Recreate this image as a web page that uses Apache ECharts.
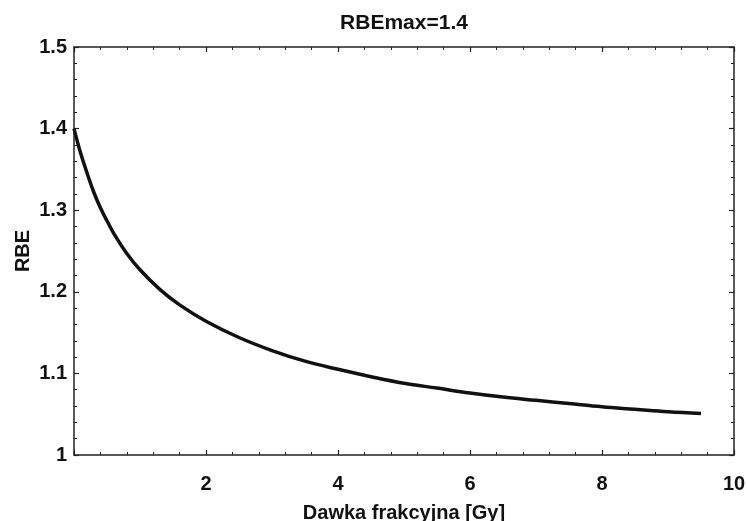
<!DOCTYPE html>
<html>
<head>
<meta charset="utf-8">
<script src="https://cdn.jsdelivr.net/npm/echarts@6/dist/echarts.min.js"></script>
<style>html,body{margin:0;padding:0;background:#fff}#c{width:747px;height:521px}</style>
</head>
<body>
<div id="c"></div>
<script>
const titleText = 'RBEmax=1.4';
const xName = 'Dawka frakcyjna [Gy]';
const yName = 'RBE';
const dose = [0, 0.1, 0.2, 0.3, 0.4, 0.5, 0.6, 0.8, 1.0, 1.3, 1.6, 2.0, 2.5, 3.0, 3.5, 4.0, 4.5, 5.0, 5.5, 6.0, 6.5, 7.0, 7.5, 8.0, 8.5, 9.0, 9.5];
const rbe = [1.400, 1.370, 1.345, 1.322, 1.303, 1.287, 1.272, 1.247, 1.227, 1.203, 1.184, 1.164, 1.144, 1.128, 1.115, 1.105, 1.096, 1.088, 1.082, 1.076, 1.071, 1.067, 1.063, 1.059, 1.056, 1.053, 1.051];

const FONT = 'Liberation Sans, Arial, sans-serif';
const AX = '#222';
const chart = echarts.init(document.getElementById('c'), null, {renderer: 'canvas'});
const commonX = {
  type: 'value', min: 0, max: 10, interval: 2,
  axisLine: {show: true, onZero: false, lineStyle: {color: AX, width: 1.5}},
  axisTick: {show: true, inside: true, length: 5, lineStyle: {color: AX, width: 1.2}},
  minorTick: {show: true, splitNumber: 5, length: 3, lineStyle: {color: AX, width: 1}},
  splitLine: {show: false}
};
const commonY = {
  type: 'value', min: 1, max: 1.5, interval: 0.1,
  axisLine: {show: true, onZero: false, lineStyle: {color: AX, width: 1.5}},
  axisTick: {show: true, inside: true, length: 5, lineStyle: {color: AX, width: 1.2}},
  minorTick: {show: true, splitNumber: 5, length: 3, lineStyle: {color: AX, width: 1}},
  splitLine: {show: false}
};
chart.setOption({
  backgroundColor: '#fff',
  animation: false,
  title: {
    text: titleText, left: 404, textAlign: 'center', top: 13, padding: 0,
    textStyle: {fontFamily: FONT, fontWeight: 'bold', fontSize: 21, color: '#111'}
  },
  grid: {left: 74, right: 13, top: 47, bottom: 66, containLabel: false, outerBoundsMode: 'none'},
  xAxis: [
    Object.assign({}, commonX, {
      position: 'bottom',
      name: xName, nameLocation: 'middle', nameGap: 48, nameMoveOverlap: false,
      nameTextStyle: {fontFamily: FONT, fontWeight: 'bold', fontSize: 20, color: '#111'},
      axisLabel: {show: true, margin: 19, showMinLabel: false, fontFamily: FONT, fontWeight: 'bold', fontSize: 20, color: '#111'}
    }),
    Object.assign({}, commonX, {position: 'top', axisLabel: {show: false}})
  ],
  yAxis: [
    Object.assign({}, commonY, {
      position: 'left',
      name: yName, nameLocation: 'middle', nameGap: 41, nameRotate: 90, nameMoveOverlap: false,
      nameTextStyle: {fontFamily: FONT, fontWeight: 'bold', fontSize: 20, color: '#111'},
      axisLabel: {show: true, margin: 7, fontFamily: FONT, fontWeight: 'bold', fontSize: 20, color: '#111'}
    }),
    Object.assign({}, commonY, {position: 'right', axisLabel: {show: false}})
  ],
  series: [{
    type: 'line',
    data: dose.map((d, i) => [d, rbe[i]]),
    smooth: 0.4,
    showSymbol: false,
    lineStyle: {color: '#111', width: 3.5},
    xAxisIndex: 0, yAxisIndex: 0
  }]
});
</script>
</body>
</html>
